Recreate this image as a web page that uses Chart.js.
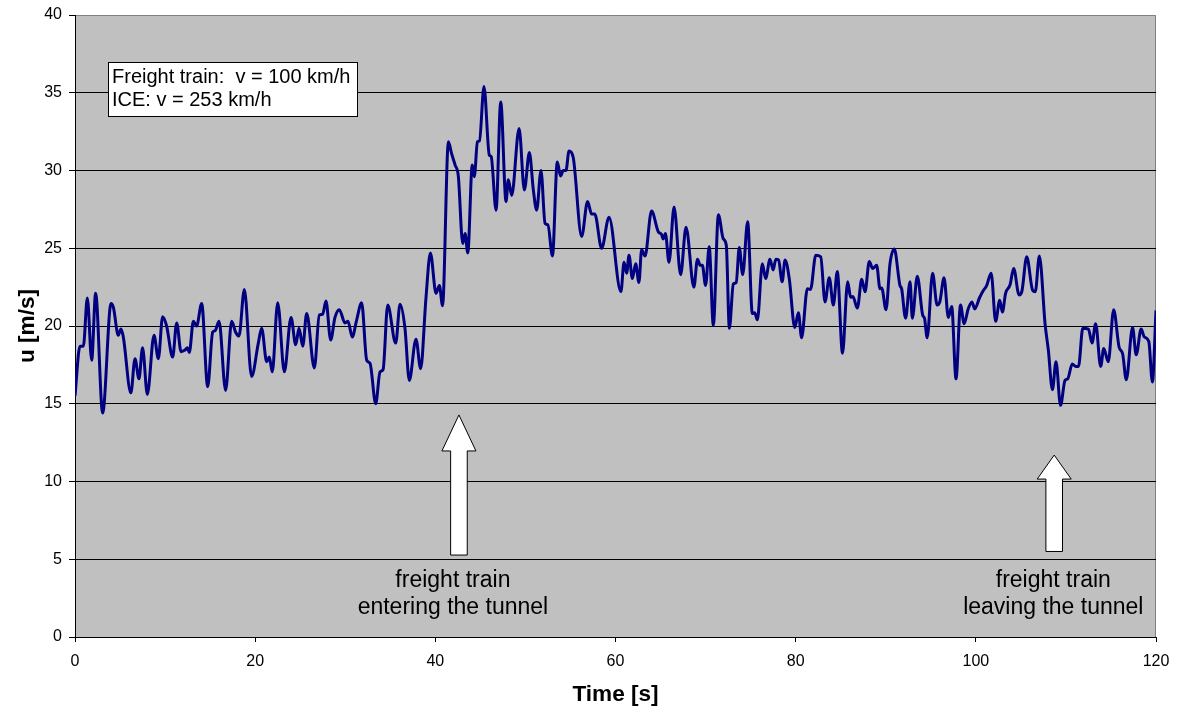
<!DOCTYPE html>
<html>
<head>
<meta charset="utf-8">
<script src="https://cdn.jsdelivr.net/npm/chart.js@4.4.0/dist/chart.umd.min.js"></script>
<style>
  html, body { margin: 0; padding: 0; background: #ffffff; }
  #wrap { width: 1177px; height: 708px; }
</style>
</head>
<body>
<div id="wrap"><canvas id="speedChart" width="1177" height="708"></canvas></div>
<script>
// Wind speed in the tunnel
const timeSec = [
  0, 0.55, 0.93, 1.37, 1.85, 2.29, 3.07, 4.0, 4.26, 4.81, 5.1, 5.36, 6.2, 6.66, 7.1, 7.5, 8.03, 8.77, 9.25, 9.73,
  10.17, 10.84, 11.29, 11.77, 12.21, 12.47, 12.69, 13.14, 13.5, 14.06, 14.73, 15.28, 15.55, 15.99, 16.72, 17.39, 17.83, 18.2, 18.8, 19.6,
  20.35, 20.72, 21.28, 21.57, 21.9, 22.5, 23.24, 23.98, 24.5, 24.87, 25.28, 25.72, 26.57, 27.12, 27.49, 27.86, 28.38, 28.86, 29.34, 29.97,
  30.3, 30.78, 31.27, 31.82, 32.38, 32.75, 33.38, 33.86, 34.2, 34.71, 35.6, 36.08, 36.63, 37.11, 37.85, 38.37, 38.96, 39.45,
  40.08, 40.45, 40.8, 41.45, 41.8, 42.2, 42.55, 43.04, 43.3, 43.6, 44.1, 44.33, 44.67, 44.9, 45.4, 45.99, 46.2, 46.74, 47.26, 47.85, 48.1, 48.48, 49.3, 49.88,
  50.44, 50.88, 51.25, 51.73, 52.18, 52.5, 53.0, 53.54, 53.9, 54.2, 54.5, 54.84, 55.3, 56.24, 56.9, 57.35, 57.7, 58.46, 59.28,
  60.6, 60.95, 61.24, 61.5, 61.87, 62.24, 62.6, 62.9, 63.28, 64.0, 64.76, 65.1, 65.3, 65.54, 65.94, 66.5, 67.23, 67.83, 68.7, 69.1, 69.4, 69.64,
  70.0, 70.4, 70.86, 71.42, 71.97, 72.3, 72.64, 73.08, 73.4, 73.74, 74.12, 74.67, 75.19, 75.45, 75.75, 76.3, 76.67, 77.15, 77.5, 77.8, 78.1, 78.5, 78.82, 79.3, 79.9,
  80.3, 80.66, 81.3, 81.65, 82.23, 82.78, 83.26, 83.73, 84.18, 84.62, 85.2, 85.77, 86.1, 86.35, 86.85, 87.33, 87.7, 88.17, 88.55, 88.99, 89.36, 89.55,
  90.03, 90.47, 90.95, 91.58, 91.76, 92.2, 92.7, 92.95, 93.5, 94.1, 94.3, 94.6, 95.2, 95.7, 96.0, 96.47, 96.95, 97.32, 97.8, 98.3, 98.7, 99.15, 99.57, 99.87,
  100.4, 100.8, 101.2, 101.7, 102.2, 102.65, 102.95, 103.3, 103.8, 104.2, 104.8, 105.1, 105.65, 106.3, 106.6, 107.05, 107.7, 108.05, 108.5, 108.9, 109.4, 109.9,
  110.2, 110.7, 111.1, 111.4, 111.87, 112.5, 112.9, 113.3, 113.86, 114.2, 114.7, 115.3, 115.9, 116.3, 116.7, 117.4, 117.8, 118.35, 118.7, 119.2, 119.6, 120
];
const windSpeed = [
  15.5, 18.7, 18.7, 21.8, 17.8, 22.1, 14.4, 21.45, 21.2, 19.4, 19.8, 19.3, 15.7, 17.9, 16.6, 18.6, 15.6, 19.4, 17.9, 20.6,
  20.0, 18.0, 20.2, 18.35, 18.45, 18.6, 18.3, 20.3, 20.0, 21.45, 16.1, 19.6, 19.7, 20.3, 15.85, 20.3, 19.6, 19.35, 22.35, 16.75,
  18.9, 19.85, 17.7, 18.0, 17.05, 21.5, 17.05, 20.55, 18.8, 19.85, 18.7, 20.8, 17.3, 20.7, 20.75, 21.6, 19.1, 20.55, 21.05, 20.2,
  20.3, 19.3, 20.4, 21.5, 17.8, 17.6, 15.0, 17.05, 17.2, 21.35, 18.9, 21.4, 19.85, 16.5, 19.15, 17.25, 21.8, 24.7,
  22.1, 22.6, 21.3, 31.85, 31.1, 30.35, 29.65, 25.3, 25.95, 24.7, 30.35, 29.6, 31.85, 31.9, 35.4, 31.0, 30.9, 27.45, 34.4, 28.0, 29.4, 28.4, 32.7, 28.75,
  31.15, 28.75, 27.45, 30.0, 26.6, 26.5, 24.5, 30.55, 29.65, 30.0, 30.0, 31.25, 30.85, 25.75, 28.0, 27.2, 27.2, 25.0, 27.0,
  22.2, 24.1, 23.4, 24.55, 23.05, 24.0, 22.8, 24.9, 24.5, 27.4, 26.05, 25.9, 25.6, 25.95, 24.1, 27.65, 23.3, 26.35, 22.5, 24.3, 23.9, 23.9,
  22.6, 25.1, 20.05, 27.15, 25.6, 25.2, 19.85, 22.7, 22.8, 25.05, 23.3, 26.7, 20.8, 20.85, 20.4, 24.0, 23.05, 24.3, 23.6, 24.3, 24.25, 22.85, 24.25, 23.0, 19.9,
  20.85, 19.25, 22.4, 22.35, 24.55, 24.45, 21.55, 23.1, 21.35, 23.5, 18.25, 22.85, 21.85, 21.9, 21.15, 23.0, 22.2, 24.15, 23.7, 23.9, 22.4, 22.45,
  21.05, 24.0, 24.95, 22.6, 22.4, 20.5, 22.85, 20.5, 23.2, 20.7, 20.5, 19.25, 23.4, 21.35, 21.55, 23.1, 20.55, 21.25, 16.6, 21.35, 20.15, 21.1, 21.55, 21.1,
  21.8, 22.25, 22.6, 23.4, 20.3, 21.65, 20.9, 22.1, 22.65, 23.7, 22.0, 22.2, 24.45, 22.3, 22.2, 24.5, 20.05, 18.45, 15.9, 17.7, 14.9, 16.5,
  16.6, 17.55, 17.4, 17.4, 19.85, 19.8, 18.9, 20.15, 17.4, 18.55, 17.7, 21.05, 18.65, 18.2, 16.55, 19.9, 18.15, 19.8, 19.3, 19.0, 16.4, 21.0
];

const yTicks = [0, 5, 10, 15, 20, 25, 30, 35, 40];
const xTicks = [0, 20, 40, 60, 80, 100, 120];

// Annotations, anchored in data units (time, speed)
const infoLines = ["Freight train:  v = 100 km/h", "ICE: v = 253 km/h"];
const arrowLabels = [
  ["freight train", "entering the tunnel"],
  ["freight train", "leaving the tunnel"]
];
const arrows = [
  { x: 42.62, tip: 14.28, base: 5.27, headH: 36, textX: 41.95 },
  { x: 108.7, tip: 11.7, base: 5.5, headH: 24, textX: 108.6 }
];

const FONT = "'Liberation Sans', Arial, sans-serif";

// keep the plot area where the layout padding puts it
function noEdgePadding(scale) {
  scale.paddingLeft = 0;
  scale.paddingRight = 0;
  scale.paddingTop = 0;
  scale.paddingBottom = 0;
}

const plotDecor = {
  id: "plotDecor",
  beforeDraw(chart) {
    const { ctx, chartArea: a } = chart;
    ctx.save();
    ctx.fillStyle = "#c0c0c0";
    ctx.fillRect(a.left, a.top, a.right - a.left, a.bottom - a.top);
    ctx.strokeStyle = "#808080";
    ctx.lineWidth = 1;
    ctx.beginPath();
    ctx.moveTo(a.left, a.top + 0.5);
    ctx.lineTo(a.right - 0.5, a.top + 0.5);
    ctx.lineTo(a.right - 0.5, a.bottom);
    ctx.stroke();
    ctx.restore();
  },
  afterDatasetsDraw(chart) {
    const { ctx, scales: { x, y } } = chart;
    ctx.save();

    // info box
    const bx = Math.round(x.getPixelForValue(3.66)) + 0.5;
    const by = Math.round(y.getPixelForValue(36.98)) + 0.5;
    const bw = 249, bh = 54;
    ctx.fillStyle = "#ffffff";
    ctx.fillRect(bx, by, bw, bh);
    ctx.strokeStyle = "#000000";
    ctx.lineWidth = 1;
    ctx.strokeRect(bx, by, bw, bh);
    ctx.fillStyle = "#000000";
    ctx.font = "20px " + FONT;
    ctx.textBaseline = "alphabetic";
    ctx.textAlign = "left";
    infoLines.forEach((line, i) => ctx.fillText(line, bx + 3.5, by + 20 + i * 23.7));

    // block arrows and their labels
    arrows.forEach((ar, k) => {
      const cx = x.getPixelForValue(ar.x);
      const tipY = y.getPixelForValue(ar.tip);
      const baseY = y.getPixelForValue(ar.base);
      const headW = 17, shaftW = 8.3;
      ctx.beginPath();
      ctx.moveTo(cx, tipY);
      ctx.lineTo(cx + headW, tipY + ar.headH);
      ctx.lineTo(cx + shaftW, tipY + ar.headH);
      ctx.lineTo(cx + shaftW, baseY);
      ctx.lineTo(cx - shaftW, baseY);
      ctx.lineTo(cx - shaftW, tipY + ar.headH);
      ctx.lineTo(cx - headW, tipY + ar.headH);
      ctx.closePath();
      ctx.fillStyle = "#ffffff";
      ctx.fill();
      ctx.strokeStyle = "#000000";
      ctx.lineWidth = 1;
      ctx.stroke();

      const tx = x.getPixelForValue(ar.textX);
      ctx.fillStyle = "#000000";
      ctx.font = "23px " + FONT;
      ctx.textAlign = "center";
      ctx.textBaseline = "alphabetic";
      ctx.fillText(arrowLabels[k][0], tx, y.getPixelForValue(3.23));
      ctx.fillText(arrowLabels[k][1], tx, y.getPixelForValue(1.46));
    });
    ctx.restore();
  }
};

const ctx = document.getElementById("speedChart").getContext("2d");
new Chart(ctx, {
  type: "line",
  data: {
    datasets: [{
      label: "u",
      data: timeSec.map((t, i) => ({ x: t, y: windSpeed[i] })),
      borderColor: "#000080",
      borderWidth: 3,
      pointRadius: 0,
      fill: false,
      cubicInterpolationMode: "monotone"
    }]
  },
  options: {
    responsive: false,
    animation: false,
    devicePixelRatio: 1,
    layout: { padding: { left: 0, right: 21, top: 15, bottom: 0 } },
    plugins: {
      legend: { display: false },
      tooltip: { enabled: false }
    },
    scales: {
      x: {
        type: "linear",
        min: 0,
        max: 120,
        afterFit: scale => { scale.height = 71; noEdgePadding(scale); },
        afterBuildTicks: scale => { scale.ticks = xTicks.map(v => ({ value: v })); },
        grid: { drawOnChartArea: false, tickLength: 5, tickColor: "#000000" },
        border: { color: "#000000", width: 1 },
        ticks: { color: "#000000", font: { family: FONT, size: 16 }, padding: 10, maxRotation: 0 },
        title: {
          display: true,
          text: "Time [s]",
          color: "#000000",
          font: { family: FONT, size: 22.6, weight: "bold", lineHeight: 1 },
          padding: { top: 0, bottom: 2 }
        }
      },
      y: {
        min: 0,
        max: 40,
        afterFit: scale => { scale.width = 75; noEdgePadding(scale); },
        afterBuildTicks: scale => { scale.ticks = yTicks.map(v => ({ value: v })); },
        grid: {
          color: c => (c.tick && c.tick.value === 40 ? "rgba(0,0,0,0)" : "#000000"),
          tickLength: 6,
          tickColor: "#000000"
        },
        border: { color: "#000000", width: 1 },
        ticks: { color: "#000000", font: { family: FONT, size: 16 }, padding: 7 },
        title: {
          display: true,
          text: "u [m/s]",
          color: "#000000",
          font: { family: FONT, size: 22.6, weight: "bold", lineHeight: 1 },
          padding: { top: 16, bottom: 0 }
        }
      }
    }
  },
  plugins: [plotDecor]
});
</script>
</body>
</html>
